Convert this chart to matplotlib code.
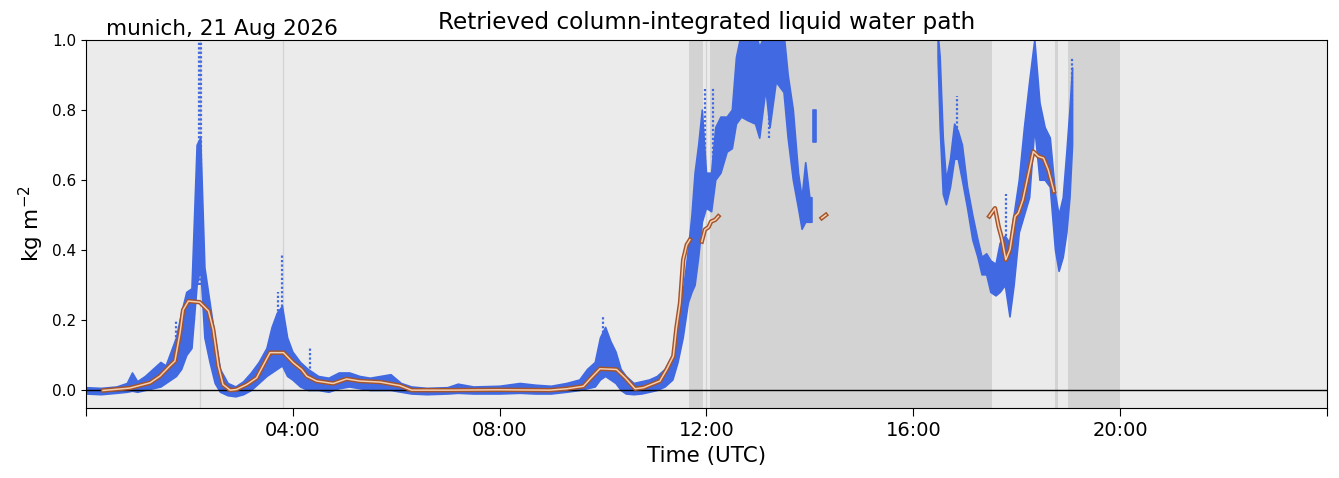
import numpy as np
import matplotlib
matplotlib.use("Agg")
import matplotlib.pyplot as plt
import matplotlib.patheffects as pe
from matplotlib.ticker import FixedLocator, FuncFormatter

nan = np.nan

# --- observed LWP envelope (hours UTC, lower / upper edge of the scatter cloud, kg m-2) ---
obs_t = [0.00, 0.30, 0.60, 0.80, 0.90, 1.00, 1.15, 1.30, 1.45, 1.55, 1.65, 1.75, 1.85, 1.95,
         2.05, 2.15, 2.22, 2.30, 2.40, 2.50, 2.60, 2.75, 2.90, 3.05, 3.20, 3.35, 3.50, 3.60,
         3.70, 3.80, 3.90, 4.00, 4.15, 4.30, 4.50, 4.70, 4.90, 5.10, 5.30, 5.50, 5.70, 5.90,
         6.10, 6.30, 6.60, 7.00, 7.20, 7.50, 8.00, 8.40, 8.70, 9.00, 9.30, 9.55, 9.70, 9.85,
         9.95, 10.05, 10.15, 10.25, 10.35, 10.45, 10.60, 10.75, 10.90, 11.05, 11.20, 11.35,
         11.45, 11.55, 11.65, 11.72, 11.78, 11.85, 11.92, 12.00, 12.10, 12.18, 12.28, 12.40,
         12.50, 12.58, 12.68, 12.80, 12.95, 13.03, 13.15, 13.23, 13.35, 13.50, 13.58, 13.68,
         13.78, 13.85, 13.92, 14.00, 14.04,
         14.05,
         14.06, 14.12,
         14.13,
         16.48, 16.52, 16.58, 16.64, 16.72, 16.80, 16.87, 16.95, 17.05, 17.15, 17.25, 17.33,
         17.42, 17.50, 17.60, 17.68, 17.78, 17.87, 17.95, 18.05, 18.15, 18.25, 18.35, 18.45,
         18.55, 18.65, 18.75, 18.82, 18.90, 18.97, 19.03, 19.08]
obs_lo = [-0.010, -0.012, -0.008, -0.005, -0.002, -0.005, 0.000, 0.005, 0.010, 0.020, 0.030,
          0.040, 0.060, 0.100, 0.120, 0.300, 0.350, 0.150, 0.080, 0.020, -0.005, -0.015, -0.018,
          -0.012, 0.000, 0.020, 0.040, 0.050, 0.060, 0.070, 0.040, 0.030, 0.010, 0.000, 0.000,
          -0.005, 0.005, 0.010, 0.005, 0.000, 0.000, 0.000, -0.005, -0.010, -0.012, -0.010,
          -0.008, -0.010, -0.010, -0.008, -0.010, -0.010, -0.005, 0.000, 0.005, 0.010, 0.030,
          0.040, 0.030, 0.020, 0.000, -0.010, -0.012, -0.010, -0.005, 0.000, 0.010, 0.030,
          0.080, 0.150, 0.250, 0.280, 0.300, 0.380, 0.480, 0.520, 0.510, 0.600, 0.620, 0.680,
          0.690, 0.760, 0.780, 0.770, 0.760, 0.720, 0.860, 0.750, 0.880, 0.850, 0.720, 0.600,
          0.520, 0.460, 0.480, 0.480, 0.480,
          nan,
          0.710, 0.710,
          nan,
          0.950, 0.750, 0.560, 0.530, 0.580, 0.660, 0.660, 0.600, 0.520, 0.430, 0.380, 0.330,
          0.330, 0.280, 0.270, 0.280, 0.300, 0.210, 0.300, 0.450, 0.500, 0.550, 0.750, 0.600,
          0.600, 0.580, 0.400, 0.340, 0.380, 0.450, 0.550, 0.700]
obs_hi = [0.008, 0.006, 0.010, 0.020, 0.050, 0.025, 0.040, 0.060, 0.080, 0.070, 0.110, 0.150,
          0.220, 0.280, 0.290, 0.700, 0.720, 0.350, 0.250, 0.150, 0.060, 0.020, 0.010, 0.025,
          0.050, 0.080, 0.120, 0.180, 0.220, 0.240, 0.150, 0.110, 0.080, 0.060, 0.040, 0.035,
          0.050, 0.050, 0.040, 0.035, 0.040, 0.045, 0.020, 0.010, 0.006, 0.008, 0.018, 0.010,
          0.012, 0.020, 0.015, 0.012, 0.020, 0.030, 0.060, 0.080, 0.150, 0.180, 0.140, 0.110,
          0.060, 0.040, 0.020, 0.025, 0.030, 0.040, 0.060, 0.100, 0.200, 0.280, 0.400, 0.500,
          0.620, 0.700, 0.800, 0.620, 0.620, 0.750, 0.780, 0.780, 0.800, 0.950, 1.020, 1.020,
          1.020, 0.980, 1.020, 1.020, 1.020, 1.020, 0.900, 0.800, 0.620, 0.550, 0.650, 0.550,
          0.550,
          nan,
          0.800, 0.800,
          nan,
          1.020, 0.950, 0.720, 0.600, 0.660, 0.760, 0.740, 0.700, 0.580, 0.500, 0.430, 0.380,
          0.390, 0.370, 0.360, 0.420, 0.440, 0.420, 0.500, 0.600, 0.750, 0.880, 1.000, 0.820,
          0.750, 0.720, 0.560, 0.500, 0.550, 0.680, 0.800, 0.920]

# isolated dotted spikes in the scatter
spike_t = [1.75, 2.08, 2.18, 2.22, 3.72, 3.80, 4.33, 10.00, 11.97, 12.12, 13.20, 16.84,
           17.80, 19.06]
spike_lo = [0.10, 0.20, 0.30, 0.30, 0.15, 0.20, 0.05, 0.10, 0.60, 0.60, 0.72, 0.75,
            0.44, 0.80]
spike_hi = [0.20, 0.32, 1.00, 1.00, 0.28, 0.39, 0.12, 0.21, 0.86, 0.865, 0.86, 0.84,
            0.56, 0.95]

# --- smoothed retrieval (brown line) ---
line_t = [0.33, 0.85, 1.24, 1.43, 1.62, 1.72, 1.82, 1.88, 1.98, 2.20, 2.37, 2.46, 2.56, 2.65,
          2.79, 2.91, 3.11, 3.30, 3.49, 3.56, 3.82, 4.01, 4.17, 4.27, 4.46, 4.78, 5.04, 5.30,
          5.69, 6.07, 6.30, 7.00, 8.00, 8.97, 9.30, 9.62, 9.75, 9.94, 10.26, 10.43, 10.62,
          10.78, 11.10, 11.23, 11.36, 11.42, 11.49, 11.55, 11.62, 11.68,
          11.80,
          11.91, 11.97, 12.04, 12.09, 12.17, 12.23,
          13.00,
          14.23, 14.31,
          16.00,
          17.47, 17.58, 17.65, 17.71, 17.79, 17.87, 17.97, 18.03, 18.12, 18.23, 18.32, 18.42,
          18.52, 18.61, 18.72]
line_v = [0.000, 0.007, 0.022, 0.041, 0.070, 0.084, 0.165, 0.230, 0.255, 0.252, 0.227, 0.174,
          0.070, 0.017, 0.001, 0.003, 0.017, 0.036, 0.089, 0.108, 0.108, 0.079, 0.060, 0.041,
          0.027, 0.020, 0.033, 0.027, 0.024, 0.014, 0.001, 0.001, 0.002, 0.001, 0.005, 0.012,
          0.033, 0.062, 0.060, 0.036, 0.005, 0.008, 0.027, 0.060, 0.098, 0.179, 0.250, 0.373,
          0.416, 0.430,
          nan,
          0.425, 0.459, 0.466, 0.482, 0.487, 0.497,
          nan,
          0.492, 0.501,
          nan,
          0.497, 0.520, 0.468, 0.435, 0.373, 0.402, 0.497, 0.506, 0.544, 0.620, 0.682, 0.668,
          0.663, 0.630, 0.568]

# flagged periods (dark shading) and short flags (thin lines)
flag_start = [11.66, 12.06, 18.74, 18.99]
flag_end = [11.93, 17.52, 18.80, 20.00]
short_flags = [2.205, 3.815, 11.99]

fig = plt.figure(figsize=(13.39, 4.78), dpi=100)
ax = fig.add_axes([0.0642, 0.1464, 0.9268, 0.7699])
ax.set_facecolor("#ebebeb")

for s, e in zip(flag_start, flag_end):
    ax.axvspan(s, e, color="#d3d3d3", lw=0, zorder=0.5)
for s in short_flags:
    ax.axvline(s, color="#d3d3d3", lw=0.9, zorder=0.5)

ax.fill_between(obs_t, obs_lo, obs_hi, color="royalblue", lw=1.2, edgecolor="royalblue",
                zorder=2)
ax.vlines(spike_t, spike_lo, spike_hi, color="royalblue", lw=1.6, linestyles=(0, (1, 1)),
          zorder=2)

ax.axhline(0, color="k", lw=1.0, zorder=3)
ax.plot(line_t, line_v, color="#f4cfb2", lw=1.1, zorder=4,
        path_effects=[pe.Stroke(linewidth=3.2, foreground="#a5542a"), pe.Normal()])

ax.set_xlim(0, 24)
ax.set_ylim(-0.05, 1.0)
ax.xaxis.set_major_locator(FixedLocator(np.arange(0, 25, 4)))
ax.xaxis.set_major_formatter(
    FuncFormatter(lambda v, p: "" if v in (0, 24) else f"{int(v):02d}:00"))
ax.tick_params(axis="x", labelsize=14, length=6)
ax.tick_params(axis="y", labelsize=11)
ax.set_yticks(np.arange(0, 1.01, 0.2))
ax.set_xlabel("Time (UTC)", fontsize=15.5)
ax.set_ylabel("kg m$^{-2}$", fontsize=15.5)
ax.set_title("Retrieved column-integrated liquid water path", fontsize=16.7, pad=8)
ax.text(0.016, 1.003, "munich, 21 Aug 2026", transform=ax.transAxes, fontsize=15.5,
        va="bottom", ha="left")

fig.savefig("out.png", dpi=100)
